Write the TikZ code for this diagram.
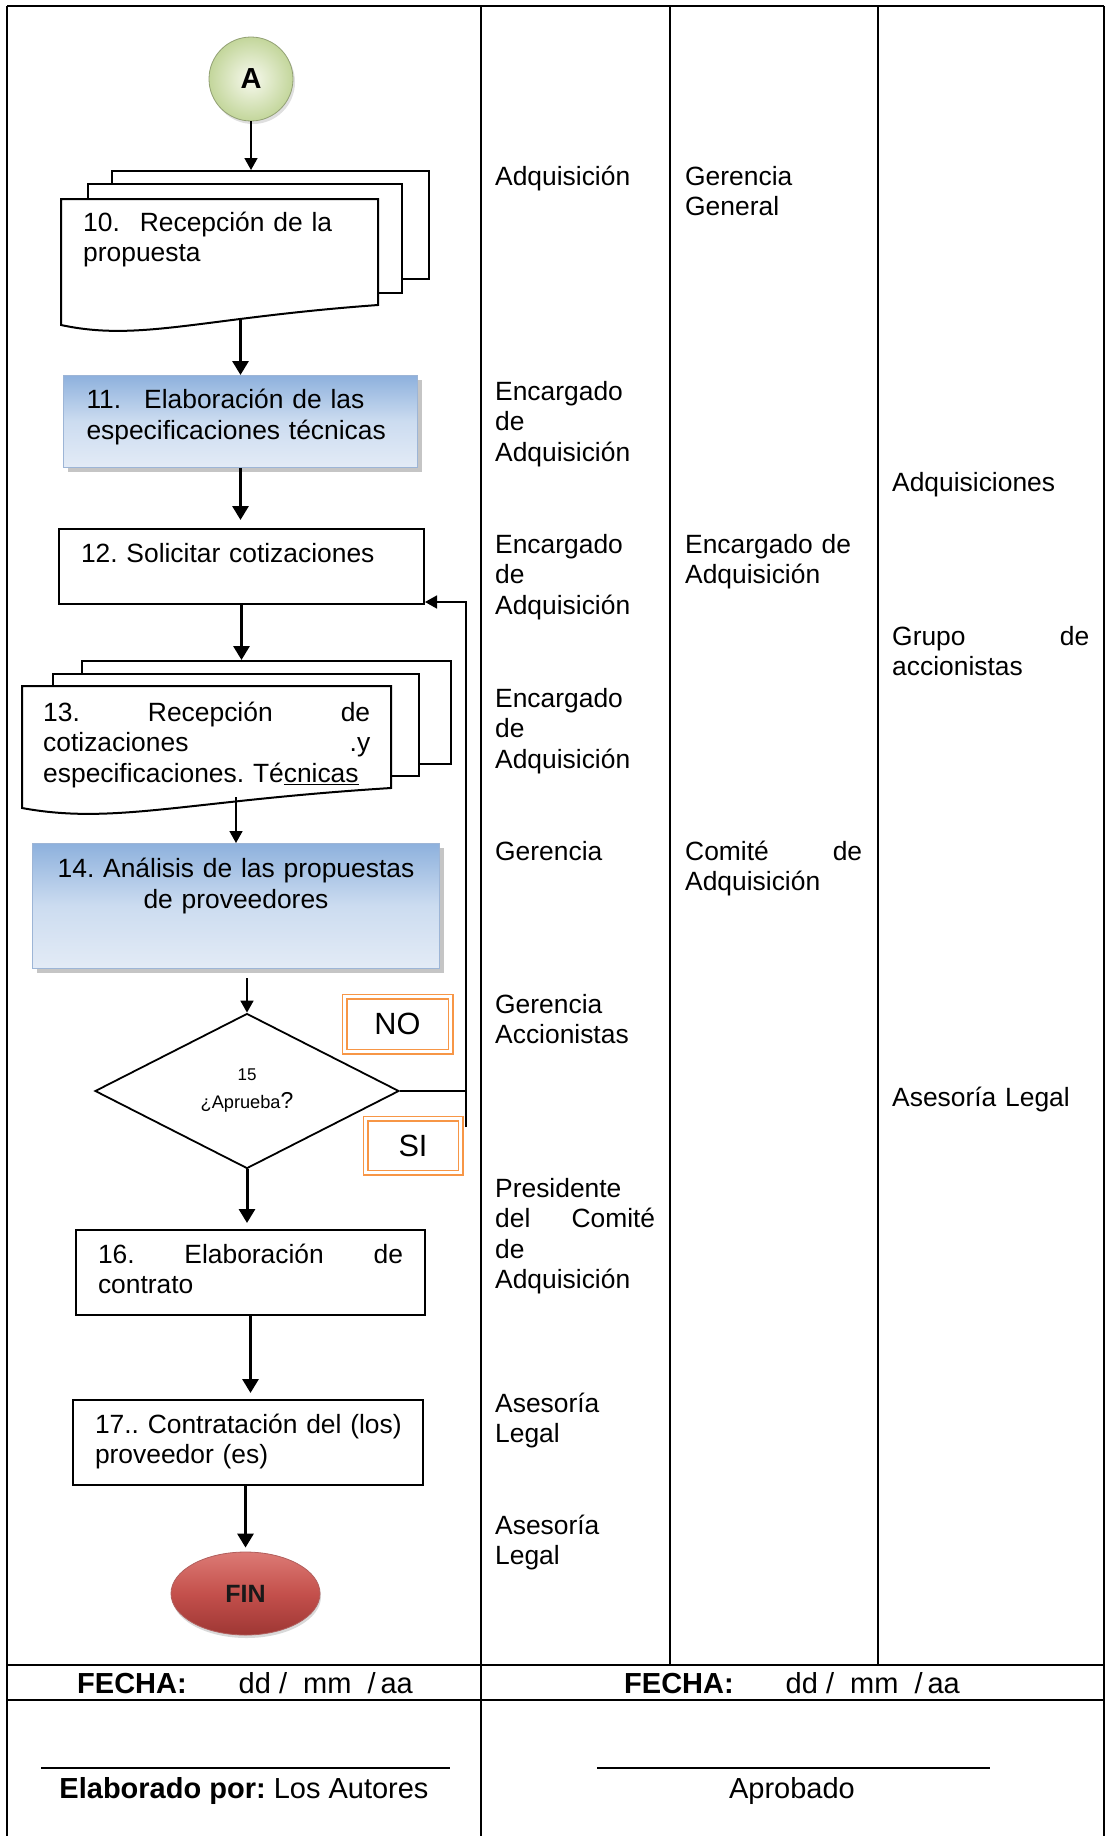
\documentclass[tikz,border=0pt]{standalone}
\usepackage{fontspec}
\setmainfont{Liberation Sans}
\usetikzlibrary{arrows.meta,shapes.geometric,shadows}
\frenchspacing

\definecolor{azulA}{HTML}{8EB1DD}
\definecolor{azulB}{HTML}{CCDCF0}
\definecolor{azulC}{HTML}{E3EBF6}
\definecolor{bordeazul}{HTML}{9DB5D6}
\definecolor{naranja}{HTML}{F79646}
\definecolor{verdeA}{HTML}{F7F9EE}
\definecolor{verdeB}{HTML}{C3D69B}
\definecolor{rojoA}{HTML}{DC7A75}
\definecolor{rojoB}{HTML}{C4504C}
\definecolor{rojoC}{HTML}{9E3734}

\begin{document}
\begin{tikzpicture}[x=1pt,y=-1pt,
	texto/.style={font=\fontsize{26.4}{30.5}\selectfont},
	linea/.style={line width=2pt},
	caja/.style={draw, line width=2pt, fill=white, anchor=north west, inner ysep=0pt, align=left, texto},
	cajaazul/.style={caja, draw=bordeazul, line width=1pt, top color=azulA, bottom color=azulC, middle color=azulB, drop shadow={shadow xshift=4pt, shadow yshift=-4pt, fill=black!45}},
	hoja/.style={draw, line width=2pt, fill=white, anchor=north west, inner sep=0pt},
	pagina/.style={texto, anchor=north west, inner ysep=0pt, align=left},
	carril/.style={texto, anchor=base west, inner sep=0pt, align=left, text width=170pt},
	flecha/.style={line width=3pt, -{Triangle[length=14pt,width=16pt]}},
	flechafina/.style={line width=1.7pt, -{Triangle[length=12pt,width=13pt]}},
	doble/.style={draw=naranja, line width=1.1pt, double=white, double distance=3.8pt, fill=white, inner sep=0pt, font=\fontsize{30.7}{32}\selectfont},
	rombo/.style={diamond, draw, line width=1.8pt, fill=white, minimum width=304pt, minimum height=155pt, inner sep=0pt, align=center, font=\fontsize{18.2}{28}\selectfont},
	pie/.style={font=\fontsize{29}{32}\selectfont, anchor=base, inner sep=0pt}
	]
	
	\useasboundingbox (0,0) rectangle (1106,1836);
	
	\draw[linea] (7,6) -- (1104,6);
	\draw[linea] (7,6) -- (7,1836);
	\draw[linea] (1104,6) -- (1104,1836);
	\draw[linea] (481,6) -- (481,1836);
	\draw[linea] (670,6) -- (670,1665);
	\draw[linea] (878,6) -- (878,1665);
	\draw[linea] (7,1665) -- (1104,1665);
	\draw[linea] (7,1700) -- (1104,1700);
	
	\node[circle, minimum size=84pt, inner sep=0pt, inner color=verdeA, outer color=verdeB, draw=verdeB!75!black, line width=0.8pt, drop shadow={shadow xshift=2pt, shadow yshift=-3pt, opacity=0.25}, font=\fontsize{29}{30}\selectfont\bfseries] (A) at (251,79) {A};
	
	\node[hoja, minimum width=317pt, minimum height=108pt] (r10a) at (111,170) {};
	\node[hoja, minimum width=314pt, minimum height=109pt] (r10b) at (87,183) {};
	\draw[linea, fill=white] (61,199) -- (378,199) -- (378,305) .. controls (200,318) and (140,342) .. (61,325) -- cycle;
	\node[pagina, inner xsep=22pt, text width=273pt, text height=32pt, text depth=87pt] (r10) at (61,199) {10.\hspace{20pt}Recepción de la\\propuesta};
	\draw[flechafina] (A) -- (A |- r10a.north);
	
	\node[cajaazul, inner xsep=23pt, text width=308pt, text height=33pt, text depth=59pt] (b11) at (63,375) {11.\hspace{23pt}Elaboración de las\\especificaciones técnicas};
	\path[flecha] (b11.north |- r10.south) edge (b11.north);
	
	\node[caja, inner xsep=22pt, text width=321pt, text height=33pt, text depth=42pt] (b12) at (58,528) {12. Solicitar cotizaciones};
	\draw[flecha, shorten >=8pt] (b11.south) -- (b11.south |- b12.north);
	
	\node[hoja, minimum width=369pt, minimum height=103pt] (r13a) at (81,660) {};
	\node[hoja, minimum width=366pt, minimum height=102pt] (r13b) at (52,673) {};
	\draw[linea, fill=white] (22,686) -- (391,686) -- (391,788) .. controls (184,801) and (114,825) .. (22,808) -- cycle;
	\node[pagina, inner xsep=21pt, text width=327pt, text height=35pt, text depth=76pt] (r13) at (22,686) {13.\hfill Recepción\hfill de\\cotizaciones\hfill .y\\especificaciones. Té\underline{cnicas}};
	\draw[flecha] (b12.south) -- (b12.south |- r13a.north);
	
	\node[cajaazul, inner xsep=10pt, text width=387pt, text height=34pt, text depth=91pt, align=center] (b14) at (32,843) {14. Análisis de las propuestas\\de proveedores};
	\draw[flechafina] (b14.north |- r13.south) -- (b14.north);
	
	\node[rombo] (d15) at (247,1091) {{\fontsize{17}{28}\selectfont 15}\\¿Aprueba{\fontsize{23}{28}\selectfont ?}};
	\draw[flechafina, shorten <=9pt] (d15.north |- b14.south) -- (d15.north);
	
	\node[doble, minimum width=106pt, minimum height=55pt] (no) at (397.5,1024) {NO};
	\node[doble, minimum width=95pt, minimum height=54pt] (si) at (413,1145.5) {SI};
	
	\coordinate (ret) at (466,1127);
	\draw[line width=1.7pt] (d15.east) -- (d15.east -| ret);
	\draw[flechafina] (ret) |- ([yshift=3pt]b12.south east);
	
	\node[caja, inner xsep=22pt, text width=305pt, text height=33pt, text depth=52pt] (b16) at (75,1229) {16.\hfill Elaboración\hfill de\\contrato};
	\draw[flecha, shorten >=6pt] (d15.south) -- (d15.south |- b16.north);
	
	\node[caja, inner xsep=22pt, text width=306pt, text height=33pt, text depth=52pt] (b17) at (72,1399) {\mbox{17.. Contratación del (los)}\\proveedor (es)};
	\draw[flecha, shorten >=6pt] (b16.south) -- (b16.south |- b17.north);
	
	\node[ellipse, minimum width=149pt, minimum height=83pt, inner sep=0pt, draw=rojoC!80, line width=0.8pt, top color=rojoA, bottom color=rojoC, middle color=rojoB, drop shadow={shadow xshift=1pt, shadow yshift=-3pt, opacity=0.3}, text=black!90, font=\fontsize{25}{26}\selectfont\bfseries] (fin) at (245.5,1593.5) {FIN};
	\draw[flecha, shorten >=4pt] (fin.north |- b17.south) -- (fin.north);
	
	\node[carril] (c10a) at (495,185) {Adquisición};
	\node[carril] (c11a) at (495,400) {Encargado\\de\\Adquisición};
	\node[carril] (c12a) at (495,553) {Encargado\\de\\Adquisición};
	\node[carril] (c13a) at (495,707) {Encargado\\de\\Adquisición};
	\node[carril] (c14a) at (495,860) {Gerencia};
	\node[carril] (c15a) at (495,1013) {Gerencia\\Accionistas};
	\node[carril, text width=160pt] (c16a) at (495,1197) {Presidente\\del\hfill Comité\\de\\Adquisición};
	\node[carril] (c17a) at (495,1412) {Asesoría\\Legal};
	\node[carril] (cfa) at (495,1534) {Asesoría\\Legal};
	
	\node[carril] (c10b) at (685,185) {Gerencia\\General};
	\node[carril] (c12b) at (685,553) {Encargado de\\Adquisición};
	\node[carril, text width=177pt] (c14b) at (685,860) {Comité\hfill de\\Adquisición};
	
	\node[carril, text width=200pt] (c11c) at (892,491) {Adquisiciones};
	\node[carril, text width=197pt] (c13c) at (892,645) {Grupo\hfill de\\accionistas};
	\node[carril, text width=200pt] (c15c) at (892,1106) {Asesoría Legal};
	
	\node[pie] (f1) at (245,1693) {\textbf{FECHA:}\hspace{52pt}dd /\ \ mm\ \ /\,aa};
	\node[pie] (f2) at (792,1693) {\textbf{FECHA:}\hspace{52pt}dd /\ \ mm\ \ /\,aa};
	\draw[line width=1.5pt] (41,1768) -- (450,1768);
	\draw[line width=1.5pt] (597,1768) -- (990,1768);
	\node[pie] (e1) at (244,1798) {\textbf{Elaborado por:} Los Autores};
	\node[pie] (e2) at (792,1798) {Aprobado};
	
\end{tikzpicture}
\end{document}
